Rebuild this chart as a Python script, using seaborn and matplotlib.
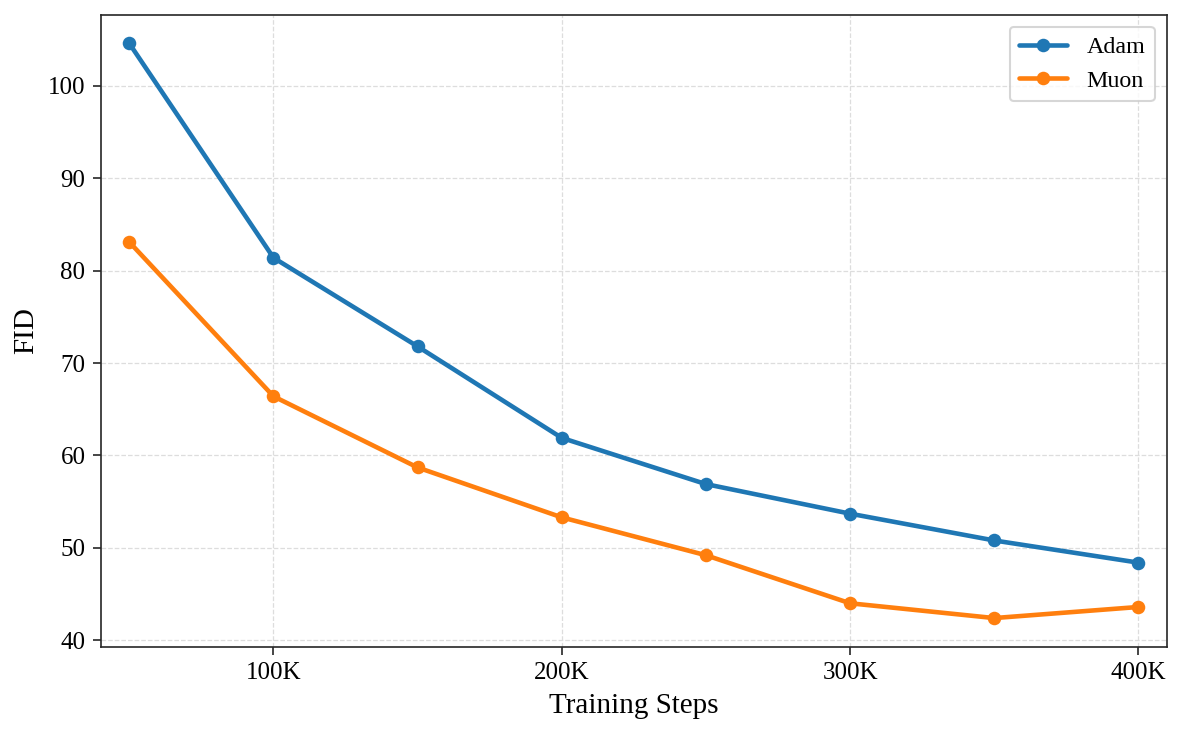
import pandas as pd
import seaborn as sns
import matplotlib.pyplot as plt

steps = [50, 100, 150, 200, 250, 300, 350, 400]  # thousands
adam = [104.6, 81.4, 71.8, 61.9, 56.9, 53.7, 50.8, 48.4]
muon = [83.1, 66.4, 58.7, 53.3, 49.2, 44.0, 42.4, 43.6]
tick_steps = [100, 200, 300, 400]
tick_labels = ['100K', '200K', '300K', '400K']

df = pd.DataFrame({'Step': steps * 2,
                   'FID': adam + muon,
                   'Optimizer': ['Adam'] * len(steps) + ['Muon'] * len(steps)})

sns.set_style('ticks')
plt.rcParams['font.family'] = ['Liberation Serif', 'DejaVu Serif']
for k in ['text.color', 'axes.labelcolor', 'xtick.color', 'ytick.color']:
    plt.rcParams[k] = 'black'

fig, ax = plt.subplots(figsize=(7.88, 4.9), dpi=150)
sns.lineplot(data=df, x='Step', y='FID', hue='Optimizer',
             palette=['#1f77b4', '#ff7f0e'], marker='o', markersize=6.5,
             markeredgewidth=0, linewidth=2.2, ax=ax)
ax.margins(x=0.028)
ax.set_xticks(tick_steps)
ax.set_xticklabels(tick_labels)
ax.tick_params(labelsize=12, length=4, color='#262626')
ax.set_xlabel('Training Steps', fontsize=14)
ax.set_ylabel('FID', fontsize=14)
ax.grid(True, linestyle='--', color='#dddddd', linewidth=0.6)
ax.legend(title=None, fontsize=11.5, loc='upper right')
for s in ax.spines.values():
    s.set_color('#262626')
fig.subplots_adjust(left=0.0855, right=0.987, top=0.98, bottom=0.12)
fig.savefig('out.png', dpi=150)
